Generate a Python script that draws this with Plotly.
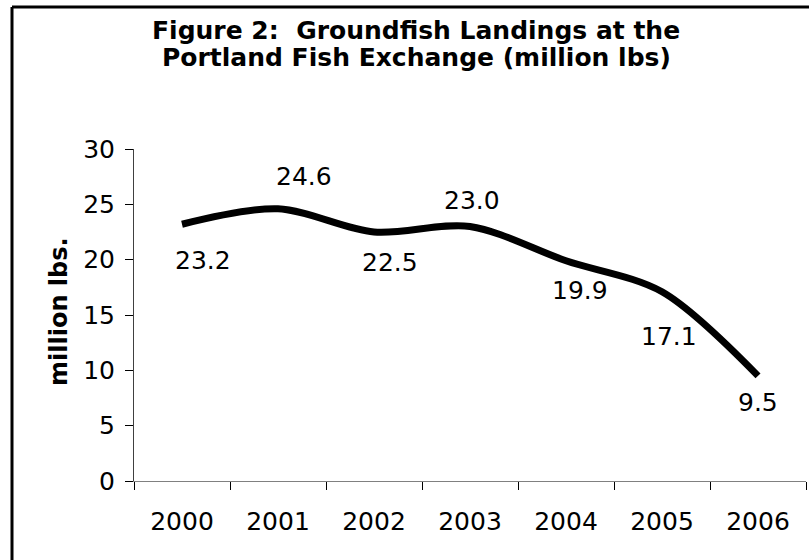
import plotly.graph_objects as go

years = ["2000", "2001", "2002", "2003", "2004", "2005", "2006"]
landings = [23.2, 24.6, 22.5, 23.0, 19.9, 17.1, 9.5]
label_text = ["23.2", "24.6", "22.5", "23.0", "19.9", "17.1", "9.5"]
y_ticks = [0, 5, 10, 15, 20, 25, 30]
title_lines = ["Figure 2:  Groundfish Landings at the", "Portland Fish Exchange (million lbs)"]
y_title = "million lbs."

# label offsets in pixels (style only)
label_dx = [21, 26, 16, 2, 14, 7, 0]
label_dy = [-36, 32, -30, 26, -30, -45, -27]

W, H = 809, 560
L, R, T, B = 134, 3, 149, 79

FONT = "DejaVu Sans"
FS = 25

fig = go.Figure()
fig.add_trace(go.Scatter(
    x=years, y=landings, mode="lines",
    line=dict(color="black", width=7, shape="spline", smoothing=0.9),
    hoverinfo="x+y", showlegend=False,
))

for i, (v, t, dx, dy) in enumerate(zip(landings, label_text, label_dx, label_dy)):
    fig.add_annotation(x=i, y=v, xref="x", yref="y", text=t, showarrow=False,
                       xshift=dx, yshift=dy,
                       font=dict(family=FONT, size=FS, color="black"))

pw = W - L - R
ph = H - T - B
def px_x(p):
    return (p - L) / pw
def px_y(p):
    return (H - B - p) / ph

for line_txt, yc in zip(title_lines, [30, 58]):
    fig.add_annotation(xref="paper", yref="paper", x=px_x(416), y=px_y(yc),
                       text="<b>" + line_txt + "</b>",
                       showarrow=False, xanchor="center", yanchor="middle",
                       font=dict(family=FONT, size=25, color="black"))

fig.add_annotation(xref="paper", yref="paper", x=px_x(59), y=px_y(312),
                   text="<b>" + y_title + "</b>", textangle=-90, showarrow=False,
                   xanchor="center", yanchor="middle",
                   font=dict(family=FONT, size=24, color="black"))

# outer frame (top and left edges visible)
fig.add_shape(type="line", xref="paper", yref="paper",
              x0=px_x(12), y0=px_y(7), x1=px_x(812), y1=px_y(7),
              line=dict(color="black", width=3))
fig.add_shape(type="line", xref="paper", yref="paper",
              x0=px_x(12), y0=px_y(7), x1=px_x(12), y1=px_y(565),
              line=dict(color="black", width=3))

fig.update_layout(
    width=W, height=H,
    margin=dict(l=L, r=R, t=T, b=B),
    paper_bgcolor="white", plot_bgcolor="white",
    font=dict(family=FONT, size=FS, color="black"),
    showlegend=False,
)
fig.update_xaxes(
    type="category", range=[-0.5, 6.5],
    showgrid=False, zeroline=False,
    showline=True, linecolor="#808080", linewidth=1,
    ticks="outside", tickson="boundaries", ticklen=8, tickcolor="black", tickwidth=1,
    tickfont=dict(family=FONT, size=FS, color="black"),
    ticklabelstandoff=18,
)
fig.update_yaxes(
    range=[0, 30], tickvals=y_ticks, ticktext=[str(v) for v in y_ticks],
    showgrid=False, zeroline=False,
    showline=True, linecolor="#404040", linewidth=1,
    ticks="outside", ticklen=8, tickcolor="black", tickwidth=1,
    tickfont=dict(family=FONT, size=FS, color="black"),
    ticklabelstandoff=5,
)

fig.write_html("out.html", config={"displayModeBar": False},
               post_script="document.body.style.margin='0';")
